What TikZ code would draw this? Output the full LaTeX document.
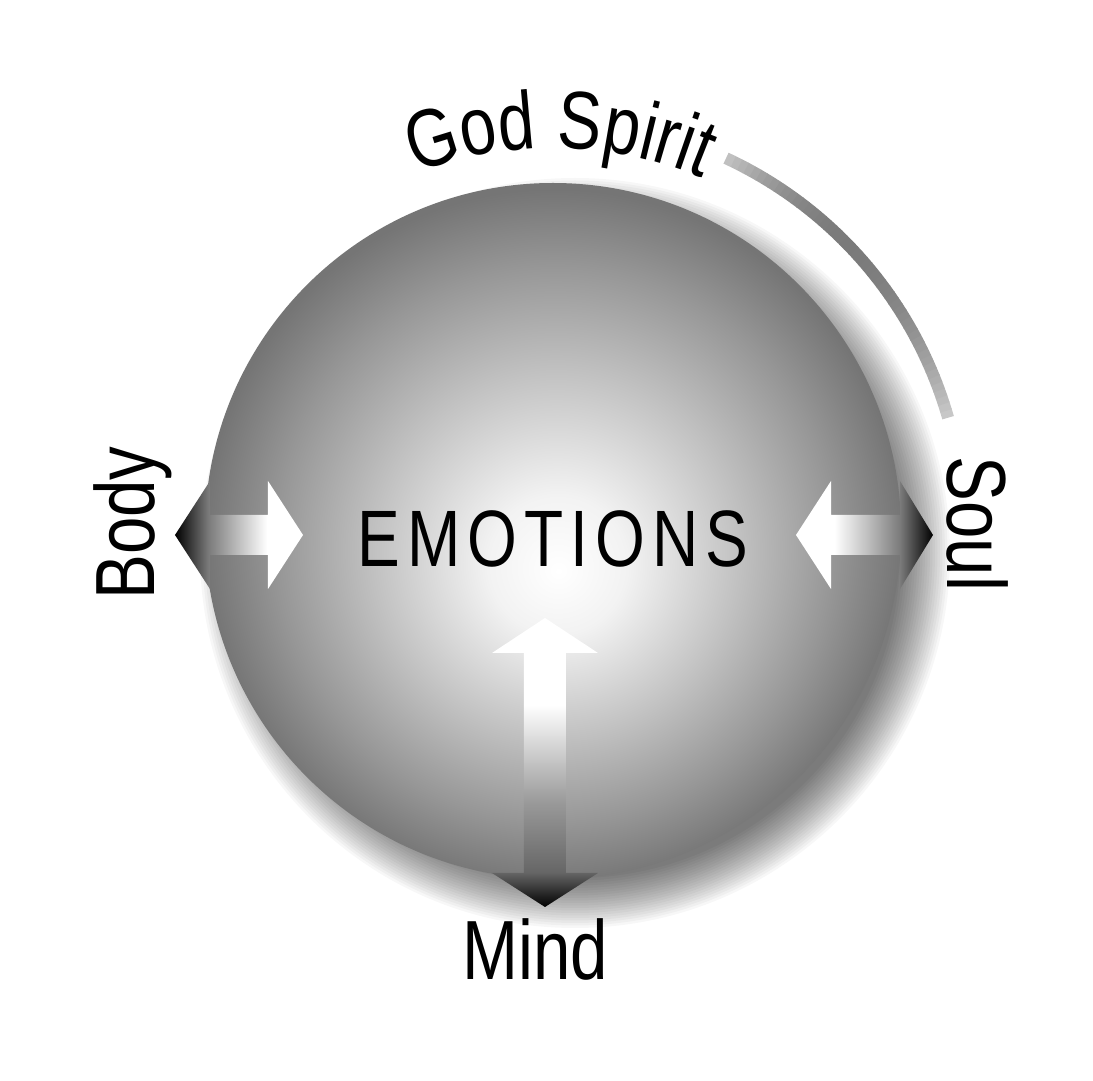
\documentclass[tikz,border=0pt]{standalone}
\usepackage{fontspec}
\setmainfont{Liberation Sans}[FakeStretch=0.8]
\newfontfamily\emofont{Liberation Sans}[FakeStretch=0.8, LetterSpace=8.75]
\newfontfamily\spiritfont{Liberation Sans}[FakeStretch=0.8, LetterSpace=2]
\newcommand{\labelfont}{\fontsize{42}{50}\selectfont}
\usetikzlibrary{positioning, decorations.text}

\pgfdeclareradialshading{sphereshade}{\pgfpoint{0.4bp}{-2.9bp}}{color(0bp)=(white); color(5bp)=(black!5); color(13bp)=(black!24); color(20bp)=(black!41); color(25bp)=(black!54); color(30bp)=(black!57)}
\pgfdeclarehorizontalshading{bodyshade}{100bp}{color(0bp)=(black); color(25bp)=(black); color(38bp)=(black!52); color(50bp)=(black!25); color(61bp)=(white); color(100bp)=(white)}
\pgfdeclarehorizontalshading{soulshade}{100bp}{color(0bp)=(white); color(39bp)=(white); color(51bp)=(black!25); color(63bp)=(black!52); color(75bp)=(black); color(100bp)=(black)}
\pgfdeclareverticalshading{mindshade}{100bp}{color(0bp)=(black); color(25bp)=(black); color(31bp)=(black!60); color(43bp)=(black!40); color(60bp)=(white); color(100bp)=(white)}

\begin{document}
\begin{tikzpicture}[x=0.5pt, y=0.5pt,
    label text/.style={font=\labelfont, inner sep=0pt, anchor=base},
    shadow ring/.style={fill=black, opacity=0.03}]
    \fill[white] (-553,-550) rectangle (540,531);
    \foreach \r in {325,327.5,...,375}
        \fill[shadow ring] (22,-22) circle (\r);
    \shade[shading=sphereshade] (0,0) circle (348);

    \foreach \a in {16,...,64} {
        \pgfmathsetmacro\t{(\a-44)/ifthenelse(\a>44,21,28)}
        \pgfmathsetmacro\s{max(22,52-30*\t*\t)}
        \draw[line width=6pt, color=black!\s] (\a:411) arc (\a:\a+1.1:411);
    }

    \shade[shading=bodyshade] (-378,-4) -- (-343,50) -- (-343,16) -- (-285,16) -- (-285,50) -- (-250,-4) -- (-285,-58) -- (-285,-24) -- (-343,-24) -- (-343,-58) -- cycle;
    \shade[shading=soulshade] (243,-4) -- (278,50) -- (278,16) -- (347,16) -- (347,50) -- (380,-4) -- (347,-58) -- (347,-24) -- (278,-24) -- (278,-58) -- cycle;
    \shade[shading=mindshade] (-8,-87) -- (45,-122) -- (13,-122) -- (13,-342) -- (45,-342) -- (-8,-376) -- (-61,-342) -- (-29,-342) -- (-29,-122) -- (-61,-122) -- cycle;

    \node[font=\emofont\fontsize{40}{48}\selectfont, inner sep=0pt, anchor=base] (emotions) at (0,-36) {EMOTIONS};
    \node[label text, rotate=90] (body) at (-398,8) {Body};
    \node[label text, rotate=-90] (soul) at (394,7) {Soul};
    \node[label text] (mind) at (-18,-448) {Mind};
    \path[decorate, decoration={text along path, text={|\spiritfont\fontsize{41}{49}\selectfont|God Spirit}, text align=center}] (113:383) arc (113:65:383);
\end{tikzpicture}
\end{document}
